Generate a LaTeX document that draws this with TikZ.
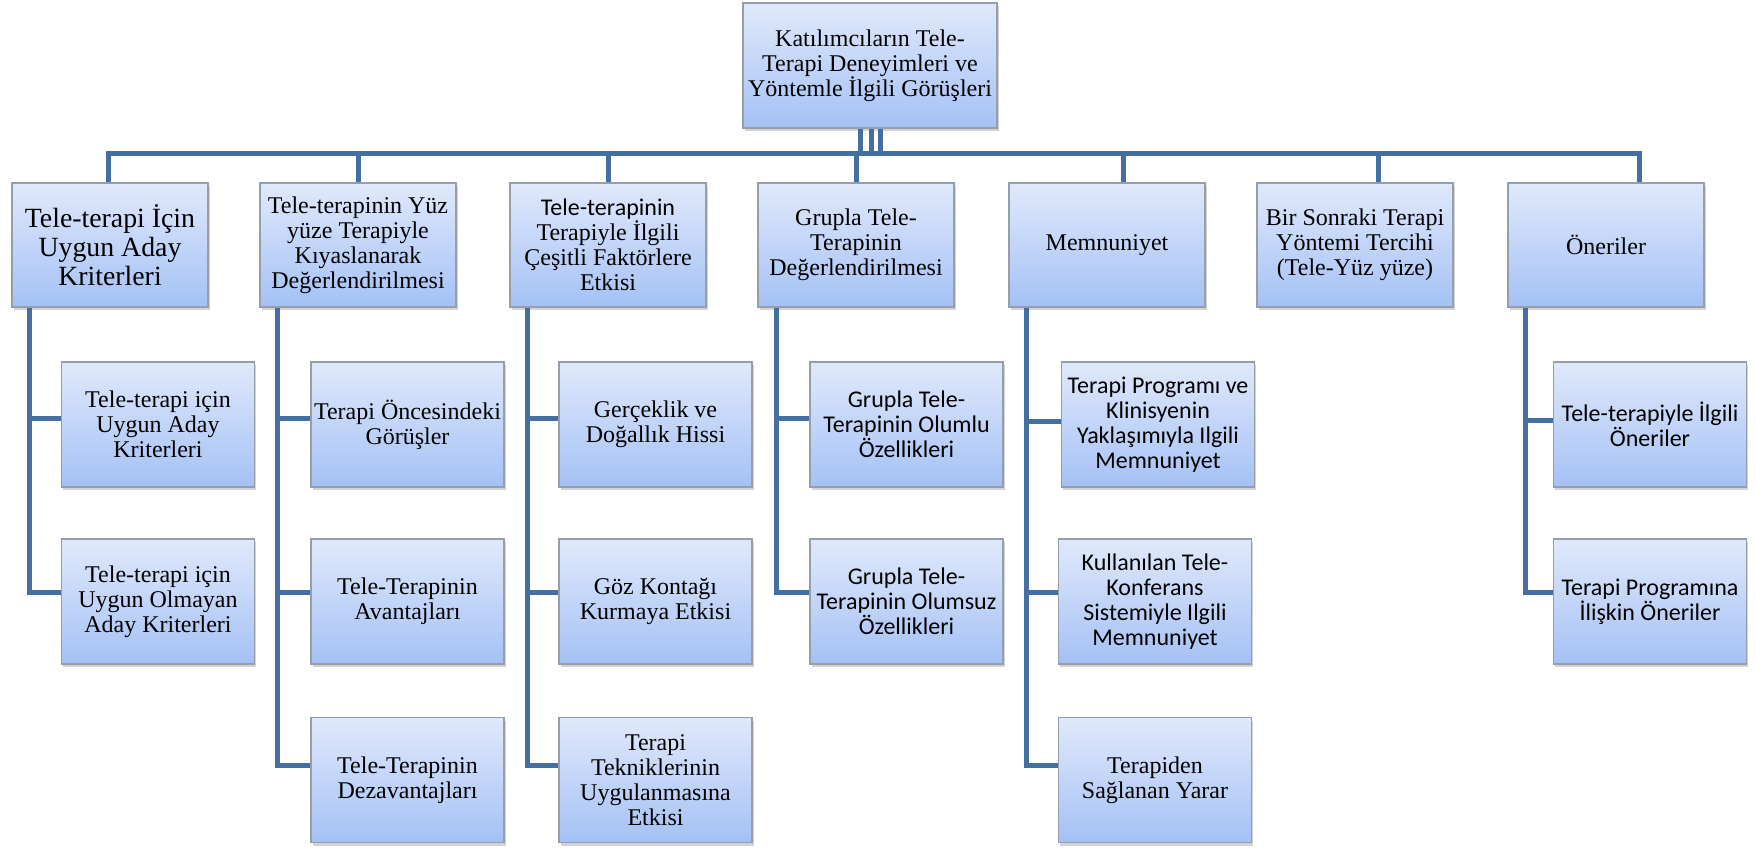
\documentclass[tikz,border=0pt]{standalone}
\usepackage{fontspec}
\setmainfont{Liberation Serif}
\newfontfamily\calibri{Carlito}
\usetikzlibrary{shadows}
\definecolor{linkblue}{RGB}{68,111,163}
\definecolor{boxtop}{RGB}{224,233,251}
\definecolor{boxbot}{RGB}{164,193,245}
\definecolor{boxline}{RGB}{150,158,170}

\begin{document}
\begin{tikzpicture}[x=0.5pt,y=-0.5pt,
    box/.style={draw=boxline,line width=0.6pt,top color=boxtop,bottom color=boxbot,
      drop shadow={shadow xshift=0.8pt,shadow yshift=-1.6pt,opacity=0.35},
      align=center,inner sep=1pt,font=\fontsize{12}{12.5}\selectfont},
    root node/.style={box,minimum width=127pt,minimum height=62.5pt},
    cat node/.style={box,minimum width=98pt,minimum height=62pt},
    sub node/.style={box,minimum width=96.5pt,minimum height=62.5pt},
    cal/.style={font=\calibri\fontsize{12}{12.5}\selectfont},
    link/.style={draw=linkblue,line width=2.5pt}]
  \useasboundingbox (0,0) rectangle (1756,850);

  % top and main themes
  \node[root node] (top) at (870,65.5) {Katılımcıların Tele-\\Terapi Deneyimleri ve\\Yöntemle İlgili Görüşleri};
  \node[cat node,font=\fontsize{13.9}{14.4}\selectfont] (c1) at (110,245) {Tele-terapi İçin\\Uygun Aday\\Kriterleri};
  \node[cat node] (c2) at (358,245) {Tele-terapinin Yüz\\yüze Terapiyle\\Kıyaslanarak\\Değerlendirilmesi};
  \node[cat node] (c3) at (608,245) {{\calibri Tele-terapinin}\\Terapiyle İlgili\\Çeşitli Faktörlere\\Etkisi};
  \node[cat node] (c4) at (856,245) {Grupla Tele-\\Terapinin\\Değerlendirilmesi};
  \node[cat node] (c5) at (1107,245) {Memnuniyet};
  \node[cat node] (c6) at (1355,245) {Bir Sonraki Terapi\\Yöntemi Tercihi\\(Tele-Yüz yüze)};
  \node[cat node] (c7) at (1606,245) {Öneriler};

  % sub themes
  \node[sub node] (k11) at (158,424.5) {Tele-terapi için\\Uygun Aday\\Kriterleri};
  \node[sub node] (k12) at (158,601.5) {Tele-terapi için\\Uygun Olmayan\\Aday Kriterleri};
  \node[sub node] (k21) at (407.5,424.5) {Terapi Öncesindeki\\Görüşler};
  \node[sub node] (k22) at (407.5,601.5) {Tele-Terapinin\\Avantajları};
  \node[sub node] (k23) at (407.5,780) {Tele-Terapinin\\Dezavantajları};
  \node[sub node] (k31) at (655.5,424.5) {Gerçeklik ve\\Doğallık Hissi};
  \node[sub node] (k32) at (655.5,601.5) {Göz Kontağı\\Kurmaya Etkisi};
  \node[sub node] (k33) at (655.5,780) {Terapi\\Tekniklerinin\\Uygulanmasına\\Etkisi};
  \node[sub node,cal] (k41) at (906.5,424.5) {Grupla Tele-\\Terapinin Olumlu\\Özellikleri};
  \node[sub node,cal] (k42) at (906.5,601.5) {Grupla Tele-\\Terapinin Olumsuz\\Özellikleri};
  \node[sub node,cal] (k51) at (1158,424.5) {Terapi Programı ve\\Klinisyenin\\Yaklaşımıyla Ilgili\\Memnuniyet};
  \node[sub node,cal] (k52) at (1155,601.5) {Kullanılan Tele-\\Konferans\\Sistemiyle Ilgili\\Memnuniyet};
  \node[sub node] (k53) at (1155,780) {Terapiden\\Sağlanan Yarar};
  \node[sub node,cal] (k71) at (1650,424.5) {Tele-terapiyle İlgili\\Öneriler};
  \node[sub node,cal] (k72) at (1650,601.5) {Terapi Programına\\İlişkin Öneriler};

  % bus under the top box
  \coordinate (busL) at (108,154);
  \coordinate (busR) at (1639,154);
  \coordinate (t1) at (860,154);
  \coordinate (t2) at (871,154);
  \coordinate (t3) at (880,154);
  \coordinate (s5) at (1123,154);
  \coordinate (s6) at (1378,154);
  \draw[link] (t1 |- top.south) -- (t1);
  \draw[link] (t2 |- top.south) -- (t2);
  \draw[link] (t3 |- top.south) -- (t3);
  \draw[link] (busL |- c1.north) -- (busL) -- (busR) -- (busR |- c7.north);
  \draw[link] (c2.north |- busL) -- (c2.north);
  \draw[link] (c3.north |- busL) -- (c3.north);
  \draw[link] (c4.north |- busL) -- (c4.north);
  \draw[link] (s5) -- (s5 |- c5.north);
  \draw[link] (s6) -- (s6 |- c6.north);

  % branches to sub themes
  \draw[link] ([xshift=9pt]c1.south west) |- ([yshift=3pt]k11.west);
  \draw[link] ([xshift=9pt]c1.south west) |- ([yshift=4.7pt]k12.west);
  \draw[link] ([xshift=9pt]c2.south west) |- ([yshift=3pt]k21.west);
  \draw[link] ([xshift=9pt]c2.south west) |- ([yshift=4.7pt]k22.west);
  \draw[link] ([xshift=9pt]c2.south west) |- ([yshift=7.5pt]k23.west);
  \draw[link] ([xshift=9pt]c3.south west) |- ([yshift=3pt]k31.west);
  \draw[link] ([xshift=9pt]c3.south west) |- ([yshift=4.7pt]k32.west);
  \draw[link] ([xshift=9pt]c3.south west) |- ([yshift=7.5pt]k33.west);
  \draw[link] ([xshift=9.5pt]c4.south west) |- ([yshift=3pt]k41.west);
  \draw[link] ([xshift=9.5pt]c4.south west) |- ([yshift=4.7pt]k42.west);
  \draw[link] ([xshift=9pt]c5.south west) |- ([yshift=1.5pt]k51.west);
  \draw[link] ([xshift=9pt]c5.south west) |- ([yshift=4.7pt]k52.west);
  \draw[link] ([xshift=9pt]c5.south west) |- ([yshift=7.5pt]k53.west);
  \draw[link] ([xshift=9pt]c7.south west) |- ([yshift=2pt]k71.west);
  \draw[link] ([xshift=9pt]c7.south west) |- ([yshift=4.7pt]k72.west);
\end{tikzpicture}
\end{document}
